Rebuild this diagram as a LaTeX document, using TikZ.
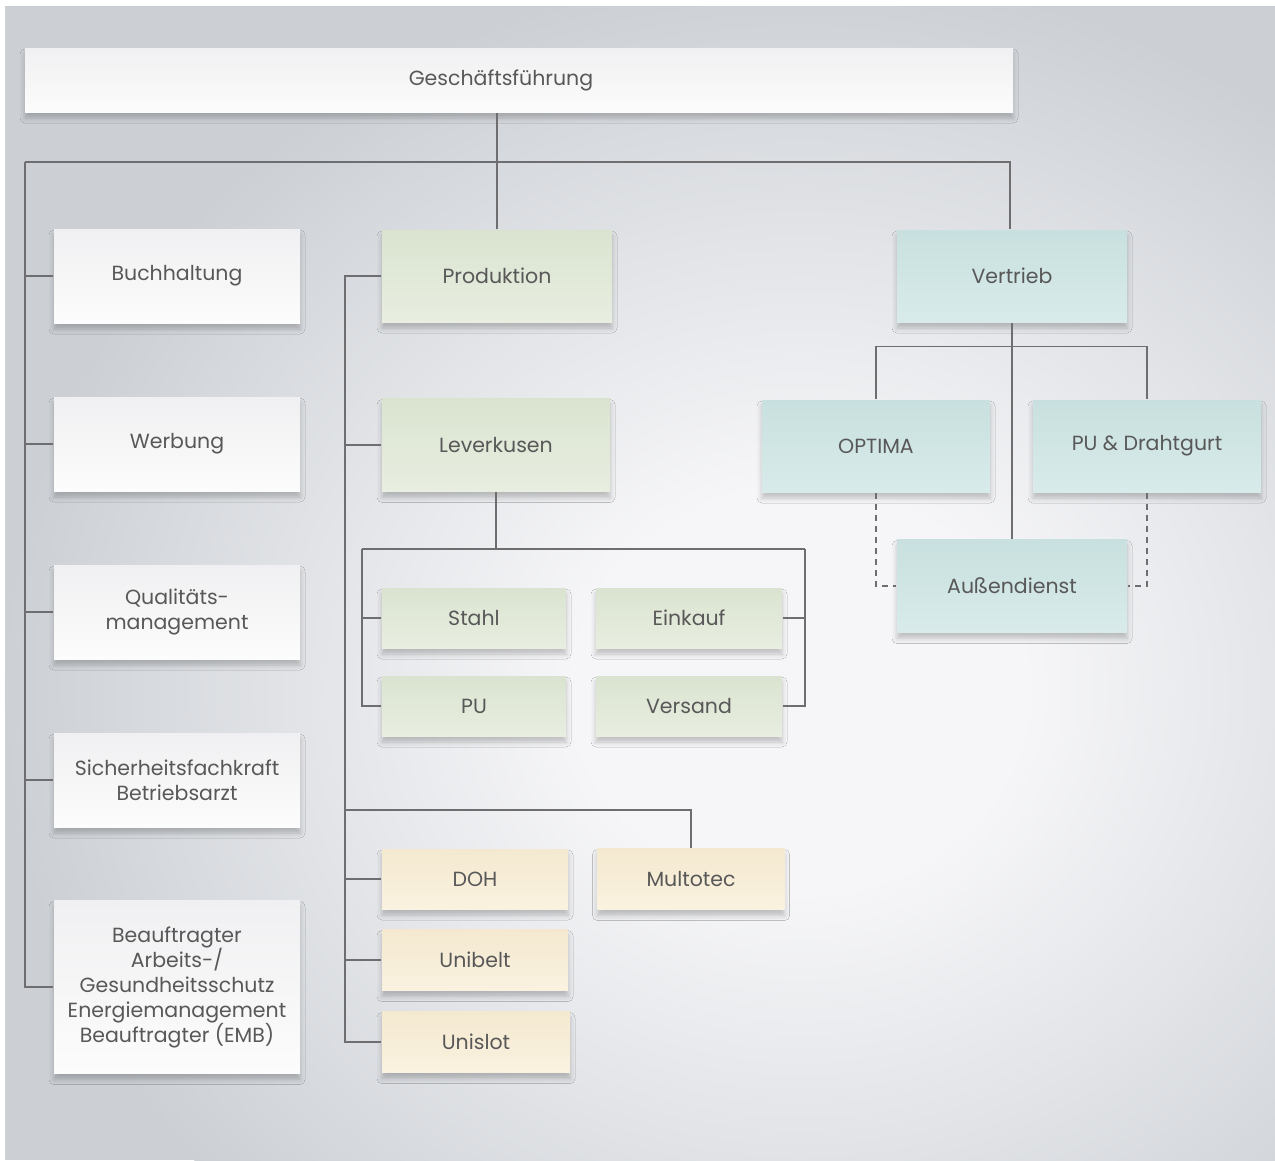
\documentclass[tikz,border=0pt]{standalone}
\usepackage{fontspec}
\setmainfont{Poppins}
\usetikzlibrary{shadows.blur}

\definecolor{bggray}{RGB}{204,208,213}
\definecolor{spotc}{RGB}{246,246,248}
\definecolor{linegray}{RGB}{110,110,112}
\definecolor{txtgray}{RGB}{88,88,88}
\definecolor{wtop}{RGB}{240,240,242}
\definecolor{wbot}{RGB}{252,252,252}
\definecolor{gtop}{RGB}{218,227,208}
\definecolor{gbot}{RGB}{232,238,224}
\definecolor{ttop}{RGB}{200,224,223}
\definecolor{tbot}{RGB}{216,235,234}
\definecolor{ytop}{RGB}{244,233,208}
\definecolor{ybot}{RGB}{250,242,224}

\pgfdeclareradialshading{bgspot}{\pgfpoint{0bp}{0bp}}{color(0bp)=(spotc); color(7bp)=(spotc); color(25bp)=(bggray); color(50bp)=(bggray)}

\tikzset{every picture/.style={line width=1.3pt}}

\begin{document}
\begin{tikzpicture}[x=1pt,y=1pt,yscale=-1,xscale=1,
  conn/.style={draw=linegray, line width=1.3pt},
  box/.style={rectangle, inner sep=0pt, align=center, text=txtgray,
    font=\fontsize{20.5}{25}\selectfont,
    blur shadow={shadow xshift=0pt, shadow yshift=-6pt, shadow blur radius=5pt, shadow opacity=22}},
  wbox/.style={box, top color=wtop, bottom color=wbot},
  gbox/.style={box, top color=gtop, bottom color=gbot},
  tbox/.style={box, top color=ttop, bottom color=tbot},
  ybox/.style={box, top color=ytop, bottom color=ybot}]
\useasboundingbox (0,0) rectangle (1275,1160);

% background
\fill[white] (0,0) rectangle (1275,1160);
\begin{scope}
\clip (5,6) rectangle (1275,1160);
\fill[bggray] (5,6) rectangle (1275,1160);
\path[shading=bgspot] (800,690) ellipse [x radius=800, y radius=720];
\end{scope}

% top
\node[wbox, minimum width=988pt, minimum height=64pt] (gf) at (519,80) {Geschäftsführung\hspace*{36pt}};

% left column
\node[wbox, minimum width=246pt, minimum height=94pt] (buch) at (177,276) {Buchhaltung};
\node[wbox, minimum width=246pt, minimum height=94pt] (werb) at (177,444) {Werbung};
\node[wbox, minimum width=246pt, minimum height=94pt] (qual) at (177,612) {Qualitäts-\\management};
\node[wbox, minimum width=246pt, minimum height=94pt] (sich) at (177,780) {Sicherheitsfachkraft\\Betriebsarzt};
\node[wbox, minimum width=246pt, minimum height=173pt] (beauf) at (177,987) {Beauftragter\\Arbeits-/\\Gesundheitsschutz\\Energiemanagement\\Beauftragter (EMB)};

% production
\node[gbox, minimum width=230pt, minimum height=92pt] (prod) at (497,276) {Produktion};
\node[gbox, minimum width=228pt, minimum height=93pt] (lev) at (496,445) {Leverkusen};
\node[gbox, minimum width=184pt, minimum height=60pt] (stahl) at (474,618) {Stahl};
\node[gbox, minimum width=186pt, minimum height=60pt] (eink) at (689,618) {Einkauf};
\node[gbox, minimum width=184pt, minimum height=60pt] (pu) at (474,706) {PU};
\node[gbox, minimum width=186pt, minimum height=60pt] (vers) at (689,706) {Versand};
\node[ybox, minimum width=186pt, minimum height=60pt] (doh) at (475,879) {DOH};
\node[ybox, minimum width=187pt, minimum height=61pt] (multo) at (691,879) {Multotec};
\node[ybox, minimum width=186pt, minimum height=61pt] (unib) at (475,960) {Unibelt};
\node[ybox, minimum width=188pt, minimum height=61pt] (unis) at (476,1042) {Unislot};

% sales
\node[tbox, minimum width=230pt, minimum height=92pt] (vert) at (1012,276) {Vertrieb};
\node[tbox, minimum width=228pt, minimum height=92pt] (opt) at (876,446) {OPTIMA};
\node[tbox, minimum width=228pt, minimum height=92pt] (pud) at (1147,446) {PU \& Drahtgurt};
\node[tbox, minimum width=230pt, minimum height=93pt] (aus) at (1012,586) {Außendienst};

% connectors
\coordinate (busL) at (25,162);
\coordinate (busR) at (1010,162);
\coordinate (pbus) at (345,276);
\coordinate (mbus) at (345,810);
\coordinate (lL) at (362,549);
\coordinate (lR) at (805,549);

\draw[conn] (prod.north) -- (prod.north |- gf.south);
\draw[conn] (busL) -- (busR) -- (busR |- vert.north);
\draw[conn] (busL) |- (beauf.west);
\draw[conn] (buch.west) -- (buch.west -| busL);
\draw[conn] (werb.west) -- (werb.west -| busL);
\draw[conn] (qual.west) -- (qual.west -| busL);
\draw[conn] (sich.west) -- (sich.west -| busL);

\draw[conn] (prod.west) -- (pbus) |- (unis.west);
\draw[conn] (lev.west) -- (lev.west -| pbus);
\draw[conn] (doh.west) -- (doh.west -| pbus);
\draw[conn] (unib.west) -- (unib.west -| pbus);
\draw[conn] (mbus) -| (multo.north);

\draw[conn] (lev.south) -- (lev.south |- lL);
\draw[conn] (lL) -- (lR);
\draw[conn] (lL) |- (pu.west);
\draw[conn] (stahl.west) -- (stahl.west -| lL);
\draw[conn] (lR) |- (vers.east);
\draw[conn] (eink.east) -- (eink.east -| lR);

\draw[conn] (vert.south) -- (aus.north);
\draw[conn] (opt.north) -- ++(0,-53) -| (pud.north);
\draw[conn, dash pattern=on 6pt off 5pt] (opt.south) |- (aus.west);
\draw[conn, dash pattern=on 6pt off 5pt] (pud.south) |- (aus.east);

\end{tikzpicture}
\end{document}
